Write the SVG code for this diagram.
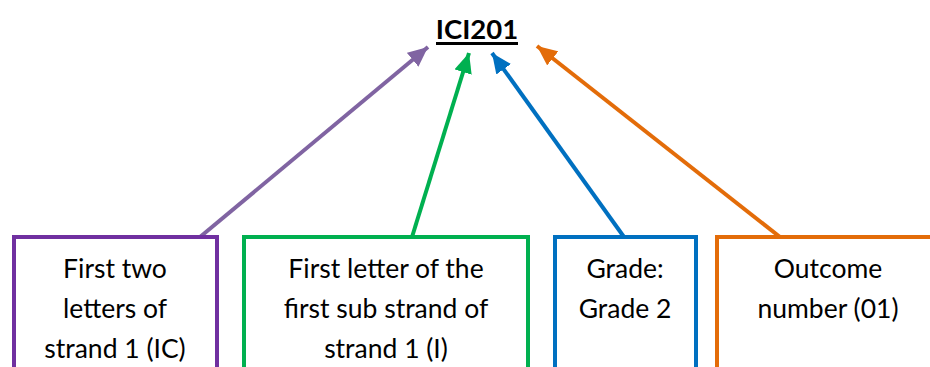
<svg xmlns="http://www.w3.org/2000/svg" width="930" height="367" viewBox="0 0 930 367">
<style>
.t{font-family:Lato,"Open Sans","Liberation Sans",sans-serif;font-size:26.5px;fill:#000;text-anchor:middle}
.box{fill:#fff;stroke-width:4}
.ln{stroke-width:4;fill:none}
</style>
<defs>
<marker id="aP" markerUnits="userSpaceOnUse" markerWidth="22" markerHeight="18" refX="20" refY="9" orient="auto"><path d="M0,0 L20,9 L0,18 Z" fill="#8064A2"/></marker>
<marker id="aG" markerUnits="userSpaceOnUse" markerWidth="22" markerHeight="18" refX="20" refY="9" orient="auto"><path d="M0,0 L20,9 L0,18 Z" fill="#00B050"/></marker>
<marker id="aB" markerUnits="userSpaceOnUse" markerWidth="22" markerHeight="18" refX="20" refY="9" orient="auto"><path d="M0,0 L20,9 L0,18 Z" fill="#0070C0"/></marker>
<marker id="aO" markerUnits="userSpaceOnUse" markerWidth="22" markerHeight="18" refX="20" refY="9" orient="auto"><path d="M0,0 L20,9 L0,18 Z" fill="#E36C09"/></marker>
</defs>
<rect width="930" height="367" fill="#fff"/>
<g id="title">
<text x="477" y="39" font-family="Lato,'Open Sans','Liberation Sans',sans-serif" font-size="27.5" font-weight="bold" text-anchor="middle">ICI201</text>
<rect x="436" y="42" width="82" height="3" fill="#000"/>
</g>
<g id="connectors">
<line class="ln" x1="200" y1="237" x2="428" y2="47" stroke="#8064A2" marker-end="url(#aP)"/>
<line class="ln" x1="412" y1="237" x2="469" y2="53" stroke="#00B050" marker-end="url(#aG)"/>
<line class="ln" x1="624" y1="237" x2="492" y2="53" stroke="#0070C0" marker-end="url(#aB)"/>
<line class="ln" x1="780" y1="237" x2="537" y2="46" stroke="#E36C09" marker-end="url(#aO)"/>
</g>
<g id="n1">
<rect class="box" x="14" y="237" width="203" height="150" stroke="#7030A0"/>
<text class="t" x="115" y="278">First two</text>
<text class="t" x="115" y="318">letters of</text>
<text class="t" x="115" y="358">strand 1 (IC)</text>
</g>
<g id="n2">
<rect class="box" x="244" y="237" width="284" height="150" stroke="#00B050"/>
<text class="t" x="386" y="278">First letter of the</text>
<text class="t" x="386" y="318">first sub strand of</text>
<text class="t" x="386" y="358">strand 1 (I)</text>
</g>
<g id="n3">
<rect class="box" x="555" y="237" width="141" height="150" stroke="#0070C0"/>
<text class="t" x="625" y="278">Grade:</text>
<text class="t" x="625" y="318">Grade 2</text>
</g>
<g id="n4">
<rect class="box" x="717" y="237" width="240" height="150" stroke="#E36C09"/>
<text class="t" x="828" y="278">Outcome</text>
<text class="t" x="828" y="318">number (01)</text>
</g>
</svg>
